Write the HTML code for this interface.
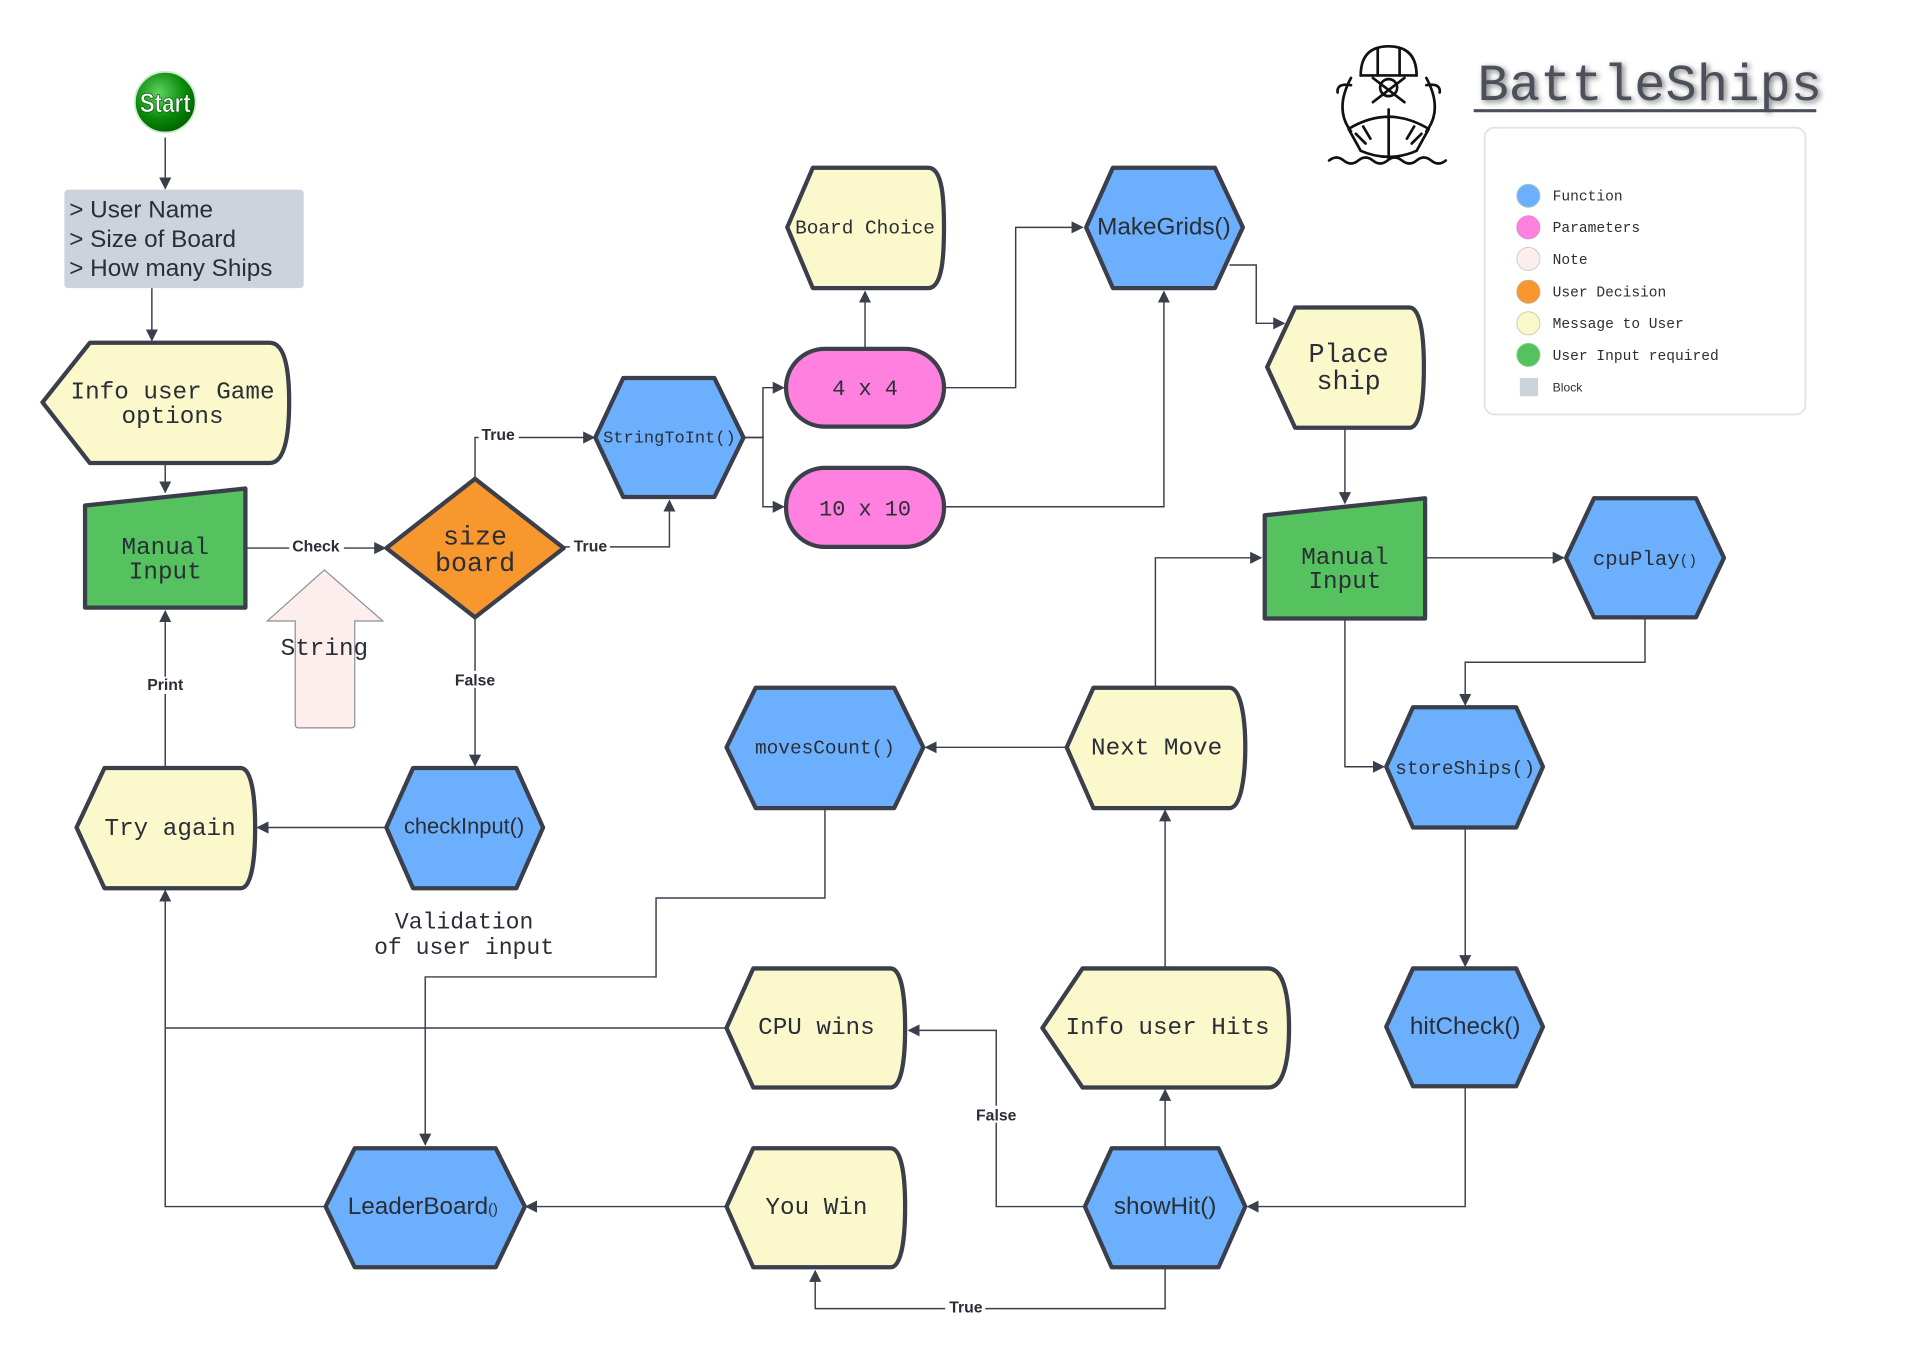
<!DOCTYPE html>
<html><head><meta charset="utf-8"><style>
html,body{margin:0;padding:0;background:#fff;}
svg{display:block;}
.m{font-family:"Liberation Mono",monospace;fill:#2a2e36;}
.s{font-family:"Liberation Sans",sans-serif;fill:#2a2e36;}
.sh{stroke:#3a3f4b;stroke-width:3.5;stroke-linejoin:round;}
.c{fill:none;stroke:#3a3f4b;stroke-width:1.2;}
.lb{font-family:"Liberation Sans",sans-serif;font-size:13px;font-weight:bold;fill:#2a2e36;}
</style></head><body>
<svg width="1905" height="1361" viewBox="0 0 1568 1120" xmlns="http://www.w3.org/2000/svg">
<defs>
<marker id="a" markerWidth="10" markerHeight="10" refX="9" refY="5" orient="auto" markerUnits="userSpaceOnUse"><path d="M0,0 L10,5 L0,10 Z" fill="#3a3f4b"/></marker>
<radialGradient id="g" cx="0.4" cy="0.35" r="0.7"><stop offset="0" stop-color="#5fd35f"/><stop offset="0.6" stop-color="#0a8a0a"/><stop offset="1" stop-color="#005c00"/></radialGradient>
<filter id="blur"><feGaussianBlur stdDeviation="2.5"/></filter>
</defs>

<g class="c" marker-end="url(#a)">
<path d="M136,113 V155"/>
<path d="M125,237 V280"/>
<path d="M136,381 V405"/>
<path d="M202,451 H317"/>
<path d="M391,394 V360 H489"/>
<path d="M464,450 H551 V412"/>
<path d="M612,360 H628 V319 H645"/>
<path d="M612,360 H628 V417 H645"/>
<path d="M712,287 V240"/>
<path d="M777,319 H836 V187 H891"/>
<path d="M777,417 H958 V240"/>
<path d="M1012,218 H1034 V266 H1057"/>
<path d="M1107,352 V414"/>
<path d="M1173,459 H1287"/>
<path d="M1354,508 V545 H1206 V580"/>
<path d="M1107,509 V631 H1139"/>
<path d="M1206,681 V795"/>
<path d="M1206,894 V993 H1027"/>
<path d="M959,945 V897"/>
<path d="M959,797 V667"/>
<path d="M951,566 V459 H1038"/>
<path d="M878,615 H762"/>
<path d="M679,665 V739 H540 V804 H350 V942"/>
<path d="M893,993 H820 V848 H748"/>
<path d="M598,846 H136 V733"/>
<path d="M959,1043 V1077 H671 V1046"/>
<path d="M598,993 H433"/>
<path d="M136,632 V503"/>
<path d="M318,681 H212"/>
<path d="M391,508 V630"/>
</g>
<path class="c" d="M268,993 H136 V846"/>

<g>
<rect x="238" y="443" width="45" height="14" fill="#fff"/><text class="lb" x="260" y="454" text-anchor="middle">Check</text>
<rect x="394" y="351" width="33" height="14" fill="#fff"/><text class="lb" x="410" y="362" text-anchor="middle">True</text>
<rect x="469" y="442" width="33" height="14" fill="#fff"/><text class="lb" x="486" y="454" text-anchor="middle">True</text>
<rect x="371" y="552" width="40" height="14" fill="#fff"/><text class="lb" x="391" y="564" text-anchor="middle">False</text>
<rect x="117" y="557" width="38" height="14" fill="#fff"/><text class="lb" x="136" y="568" text-anchor="middle">Print</text>
<rect x="800" y="910" width="40" height="14" fill="#fff"/><text class="lb" x="820" y="922" text-anchor="middle">False</text>
<rect x="778" y="1069" width="33" height="14" fill="#fff"/><text class="lb" x="795" y="1080" text-anchor="middle">True</text>
</g>

<circle cx="136" cy="84" r="25" fill="url(#g)" stroke="#d0e8d0" stroke-width="1.5"/>
<text x="136" y="92" text-anchor="middle" font-family="Liberation Sans,sans-serif" font-size="22" font-weight="bold" fill="#fff" stroke="#0a5a0a" stroke-width="0.6" textLength="42" lengthAdjust="spacingAndGlyphs">Start</text>

<rect x="53" y="156" width="197" height="81" rx="3" fill="#cdd3dc"/>
<text class="s" font-size="20" x="57" y="179">&gt; User Name</text>
<text class="s" font-size="20" x="57" y="203">&gt; Size of Board</text>
<text class="s" font-size="20" x="57" y="227">&gt; How many Ships</text>

<g fill="#fbf9cb" class="sh">
<path d="M35,331 L74,282 H222 C236,282 238,310 238,331 C238,352 236,381 222,381 H74 Z"/>
<path d="M648,187 L669,138 H764 C776,138 777,165 777,187 C777,209 776,237 764,237 H669 Z"/>
<path d="M1043,302 L1066,253 H1160 C1170,253 1172,280 1172,302 C1172,324 1170,352 1160,352 H1066 Z"/>
<path d="M63,681 L86,632 H198 C208,632 210,660 210,681 C210,702 208,731 198,731 H86 Z"/>
<path d="M878,615 L900,566 H1012 C1022,566 1025,594 1025,615 C1025,636 1022,665 1012,665 H900 Z"/>
<path d="M858,846 L891,797 H1044 C1058,797 1061,825 1061,846 C1061,867 1058,895 1044,895 H891 Z"/>
<path d="M598,846 L620,797 H733 C743,797 745,825 745,846 C745,867 743,895 733,895 H620 Z"/>
<path d="M598,993 L620,945 H733 C743,945 745,972 745,993 C745,1014 743,1043 733,1043 H620 Z"/>
</g>
<text class="m" font-size="20" x="142" y="328" text-anchor="middle">Info user Game</text>
<text class="m" font-size="20" x="142" y="348" text-anchor="middle">options</text>
<text class="m" font-size="16" x="712" y="192" text-anchor="middle">Board Choice</text>
<text class="m" font-size="22" x="1110" y="298" text-anchor="middle">Place</text>
<text class="m" font-size="22" x="1110" y="320" text-anchor="middle">ship</text>
<text class="m" font-size="20" x="140" y="687" text-anchor="middle">Try again</text>
<text class="m" font-size="20" x="952" y="621" text-anchor="middle">Next Move</text>
<text class="m" font-size="20" x="961" y="851" text-anchor="middle">Info user Hits</text>
<text class="m" font-size="20" x="672" y="851" text-anchor="middle">CPU wins</text>
<text class="m" font-size="20" x="672" y="999" text-anchor="middle">You Win</text>

<g fill="#6cb0fd" class="sh">
<path d="M490,360 L513,311 H588 L612,360 L588,409 H513 Z"/>
<path d="M894,187 L916,138 H1000 L1023,187 L1000,237 H916 Z"/>
<path d="M1289,459 L1312,410 H1396 L1419,459 L1396,508 H1312 Z"/>
<path d="M1141,631 L1163,582 H1248 L1270,631 L1248,681 H1163 Z"/>
<path d="M1141,845 L1163,797 H1248 L1270,845 L1248,894 H1163 Z"/>
<path d="M893,993 L915,945 H1003 L1025,993 L1003,1043 H915 Z"/>
<path d="M598,615 L622,566 H736 L760,615 L736,665 H622 Z"/>
<path d="M268,993 L292,945 H408 L432,993 L408,1043 H292 Z"/>
<path d="M318,681 L340,632 H425 L447,681 L425,731 H340 Z"/>
</g>
<text class="m" font-size="14" x="551" y="364" text-anchor="middle">StringToInt()</text>
<text class="s" font-size="20" x="958" y="193" text-anchor="middle">MakeGrids()</text>
<text class="m" font-size="17" x="1354" y="465" text-anchor="middle">cpuPlay<tspan font-size="12">()</tspan></text>
<text class="m" font-size="16" x="1206" y="637" text-anchor="middle">storeShips()</text>
<text class="s" font-size="20" x="1206" y="851" text-anchor="middle">hitCheck()</text>
<text class="s" font-size="20" x="959" y="999" text-anchor="middle">showHit()</text>
<text class="m" font-size="16" x="679" y="620" text-anchor="middle">movesCount()</text>
<text class="s" font-size="20" x="348" y="999" text-anchor="middle">LeaderBoard<tspan font-size="12">()</tspan></text>
<text class="s" font-size="18" x="382" y="686" text-anchor="middle">checkInput()</text>

<g fill="#ff80df" class="sh">
<rect x="647" y="287" width="130" height="64" rx="32"/>
<rect x="647" y="385" width="130" height="65" rx="32"/>
</g>
<text class="m" font-size="18" x="712" y="325" text-anchor="middle">4 x 4</text>
<text class="m" font-size="18" x="712" y="424" text-anchor="middle">10 x 10</text>

<path d="M391,394 L464,451 L391,508 L318,451 Z" fill="#f9972f" class="sh"/>
<text class="m" font-size="22" x="391" y="448" text-anchor="middle" fill="#000">size</text>
<text class="m" font-size="22" x="391" y="470" text-anchor="middle" fill="#000">board</text>

<g fill="#55c15f" class="sh">
<path d="M70,416 L202,402 V500 H70 Z"/>
<path d="M1041,424 L1173,410 V509 H1041 Z"/>
</g>
<text class="m" font-size="20" x="136" y="456" text-anchor="middle" fill="#000">Manual</text>
<text class="m" font-size="20" x="136" y="476" text-anchor="middle" fill="#000">Input</text>
<text class="m" font-size="20" x="1107" y="464" text-anchor="middle" fill="#000">Manual</text>
<text class="m" font-size="20" x="1107" y="484" text-anchor="middle" fill="#000">Input</text>

<path d="M267,469 L315,511 H292 V596 Q292,599 289,599 H246 Q243,599 243,596 V511 H220 Z" fill="#fdeeee" stroke="#8a8f98" stroke-width="1"/>
<text class="m" font-size="20" x="267" y="539" text-anchor="middle" fill="#444">String</text>

<text class="m" font-size="19" x="382" y="764" text-anchor="middle">Validation</text>
<text class="m" font-size="19" x="382" y="785" text-anchor="middle">of user input</text>

<text x="1218" y="84" font-family="Liberation Mono,monospace" font-size="43" fill="#555" filter="url(#blur)" opacity="0.8">BattleShips</text>
<text x="1216" y="82" font-family="Liberation Mono,monospace" font-size="43" fill="#4b505b">BattleShips</text>
<line x1="1213" y1="91" x2="1495" y2="91" stroke="#4b505b" stroke-width="2.5"/>

<g fill="none" stroke="#111" stroke-width="2.2" stroke-linecap="round" stroke-linejoin="round">
<path d="M1120,62 Q1120,38 1143,38 Q1166,38 1166,62"/>
<path d="M1120,62 H1166"/>
<path d="M1134,40 V62 M1152,40 V62"/>
<path d="M1112,70 Q1100,68 1101,76 M1174,70 Q1186,68 1185,76"/>
<path d="M1112,64 Q1098,90 1112,108 M1174,64 Q1188,90 1174,108"/>
<circle cx="1143" cy="72" r="7"/>
<path d="M1130,64 L1156,84 M1156,64 L1130,84"/>
<path d="M1110,106 Q1143,86 1176,106 L1166,124 Q1143,134 1120,124 Z"/>
<path d="M1143,90 V130"/>
<path d="M1116,110 L1124,118 M1122,104 L1128,114 M1170,110 L1162,118 M1164,104 L1158,114"/>
<path d="M1094,132 q6,-5 12,0 q6,5 12,0 q6,-5 12,0 q6,5 12,0 q6,-5 12,0 q6,5 12,0 q6,-5 12,0 q6,5 12,0"/>
</g>

<rect x="1222" y="105" width="264" height="236" rx="8" fill="#fff" stroke="#e0e3e9" stroke-width="1.5"/>
<g stroke-width="0.8">
<circle cx="1258" cy="161" r="9.5" fill="#6cb0fd" stroke="#9cc"/>
<circle cx="1258" cy="187" r="9.5" fill="#ff80df" stroke="#c9c"/>
<circle cx="1258" cy="213" r="9.5" fill="#fdeeee" stroke="#ccc"/>
<circle cx="1258" cy="240" r="9.5" fill="#f9972f" stroke="#ca8"/>
<circle cx="1258" cy="266" r="9.5" fill="#fbf9cb" stroke="#cca"/>
<circle cx="1258" cy="292" r="9.5" fill="#55c15f" stroke="#8c8"/>
</g>
<rect x="1251" y="311" width="15" height="15" fill="#cdd3dc"/>
<g class="m" font-size="12" fill="#111">
<text x="1278" y="165">Function</text>
<text x="1278" y="191">Parameters</text>
<text x="1278" y="217">Note</text>
<text x="1278" y="244">User Decision</text>
<text x="1278" y="270">Message to User</text>
<text x="1278" y="296">User Input required</text>
</g>
<text class="s" font-size="10" x="1278" y="322" fill="#111">Block</text>
</svg>
</body></html>
